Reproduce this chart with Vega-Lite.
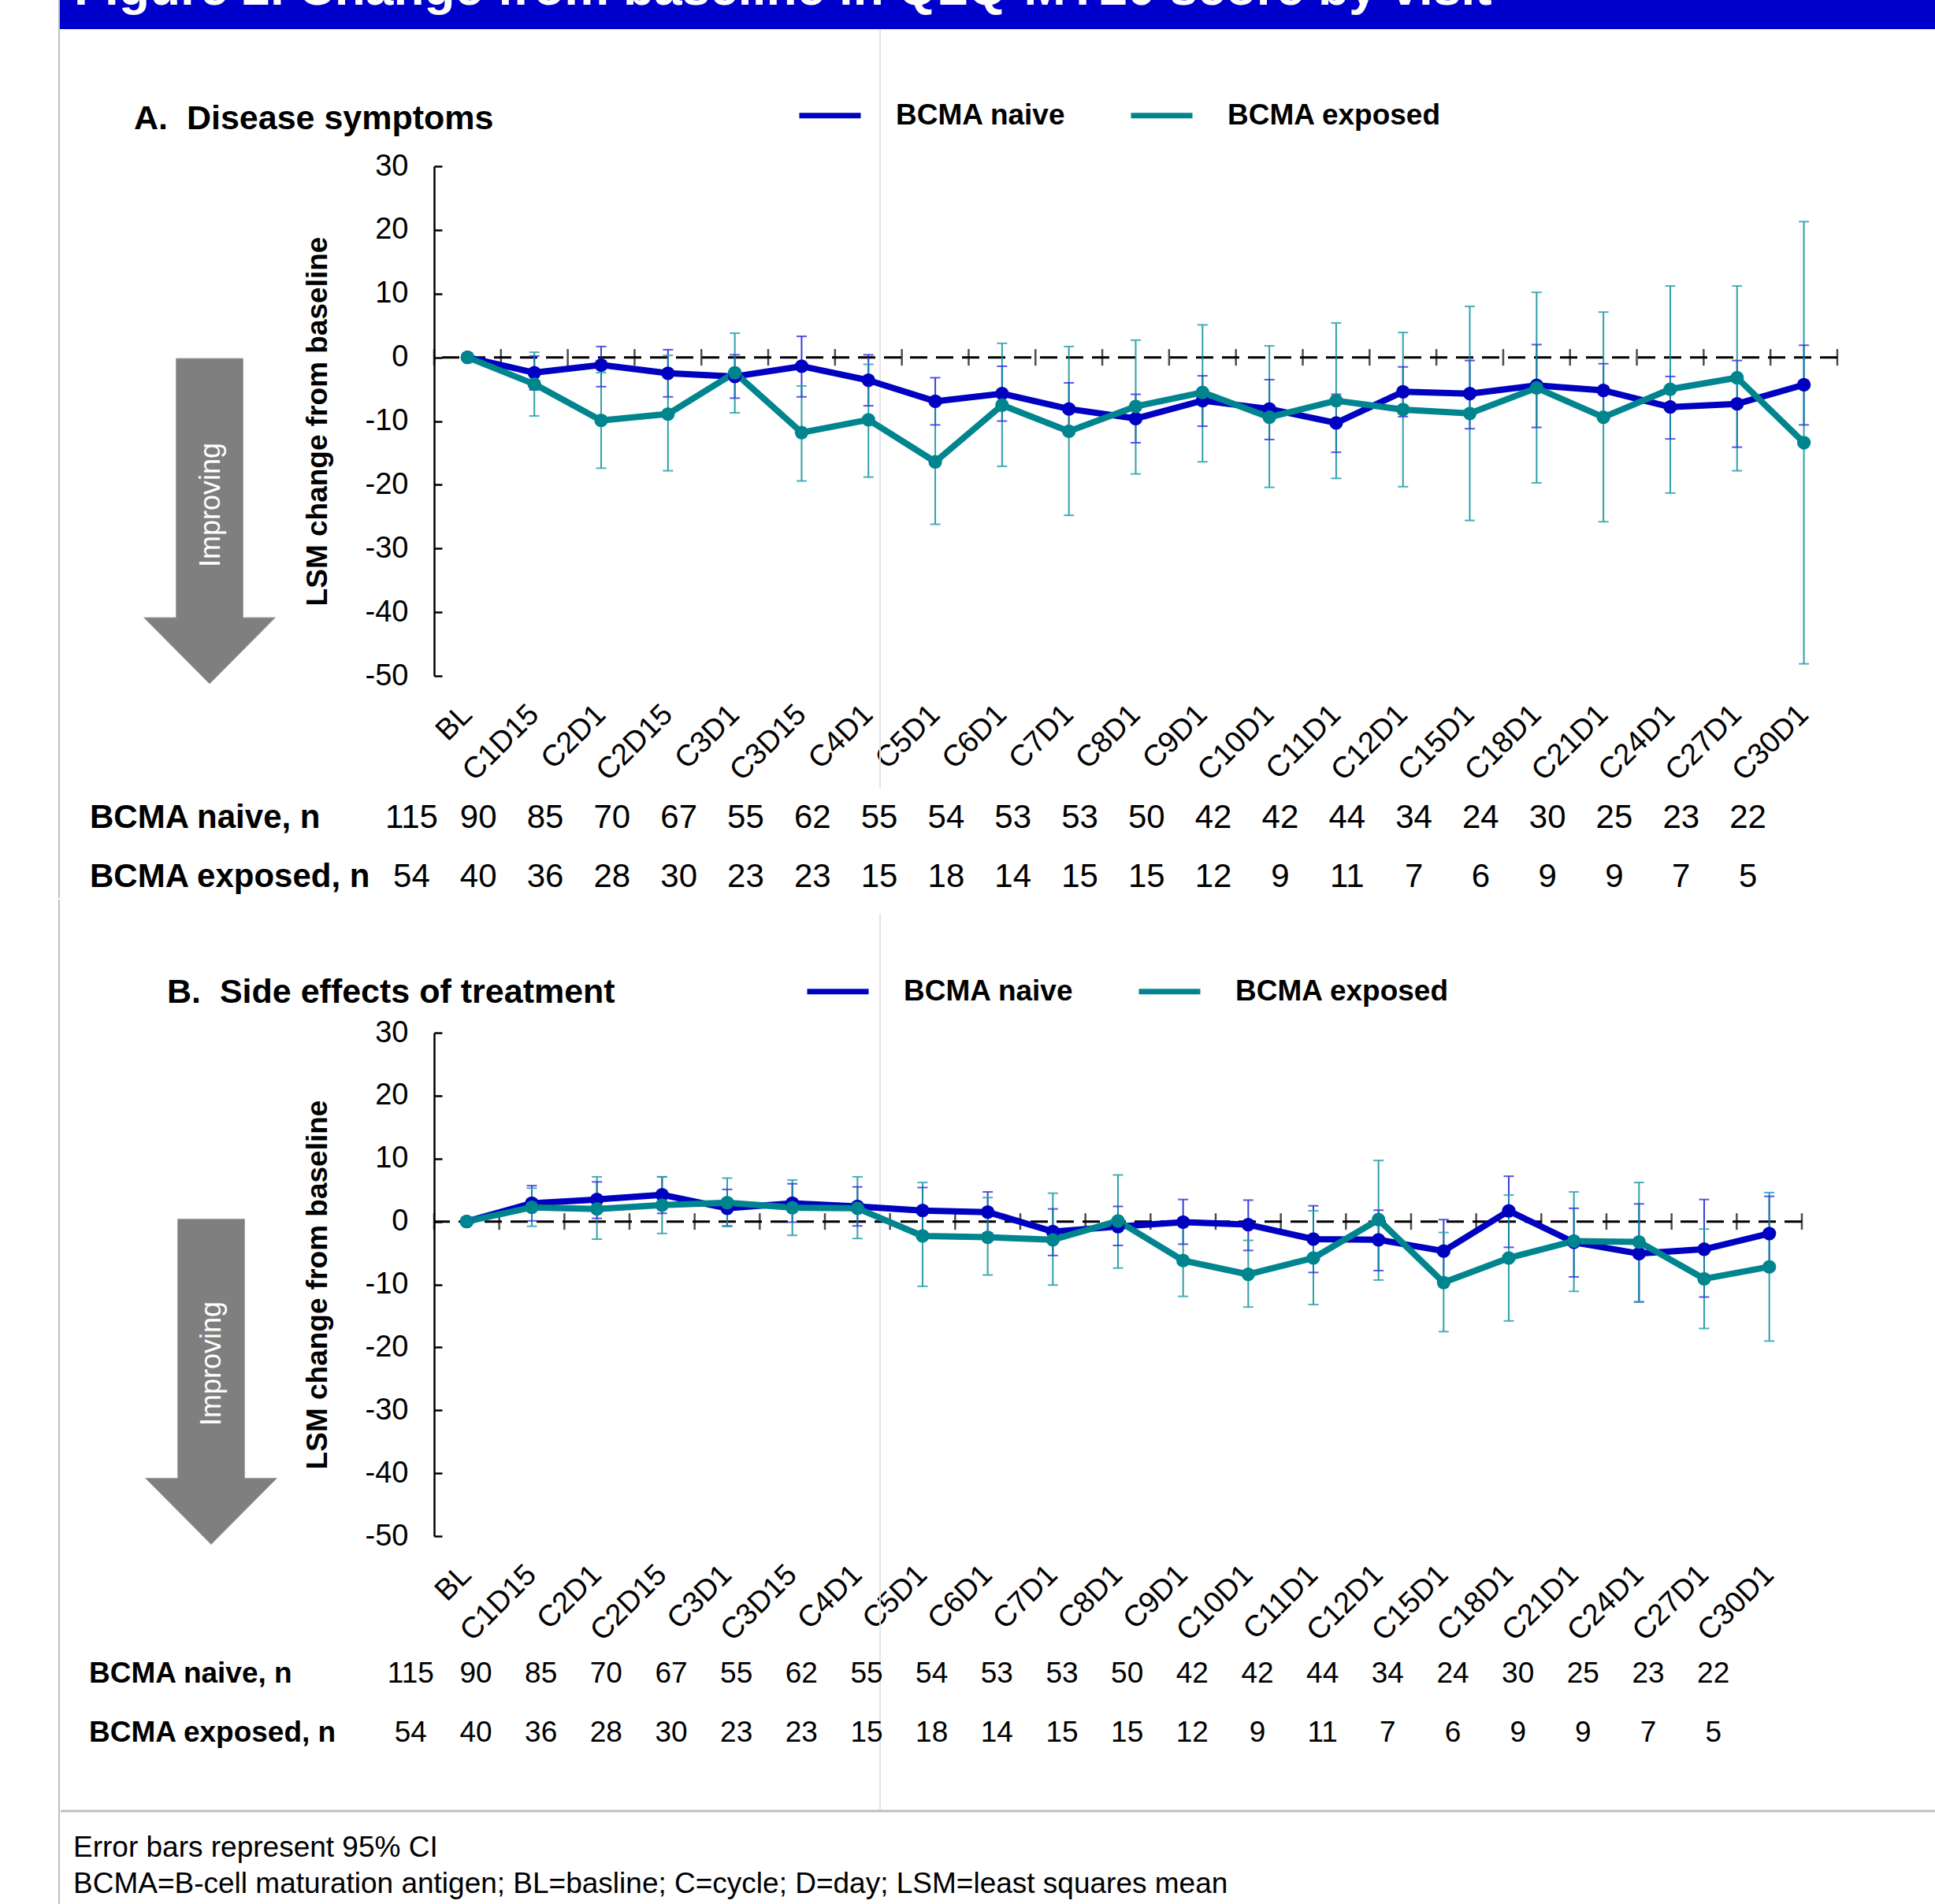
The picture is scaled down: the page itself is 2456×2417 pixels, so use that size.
{
  "$schema": "https://vega.github.io/schema/vega-lite/v6.json",
  "padding": {"left": 74, "top": -90, "right": 0, "bottom": 0},
  "spacing": 0,
  "columns": 1,
  "align": "none",
  "background": "white",
  "resolve": {"scale": {"color": "independent"}, "legend": {"color": "independent"}},
  "config": {
    "view": {"stroke": null},
    "font": "Liberation Sans",
    "axis": {"labelFont": "Liberation Sans", "titleFont": "Liberation Sans", "grid": false},
    "legend": {"labelFont": "Liberation Sans"}
  },
  "datasets": {
    "pts": [
      {"panel":"A","visit":"BL","group":"BCMA naive","lsm":0},
      {"panel":"A","visit":"C1D15","group":"BCMA naive","lsm":-2.4,"lo":-5.1,"hi":0.2},
      {"panel":"A","visit":"C2D1","group":"BCMA naive","lsm":-1.2,"lo":-4.6,"hi":1.7},
      {"panel":"A","visit":"C2D15","group":"BCMA naive","lsm":-2.5,"lo":-6.2,"hi":1.2},
      {"panel":"A","visit":"C3D1","group":"BCMA naive","lsm":-3.0,"lo":-6.4,"hi":0.4},
      {"panel":"A","visit":"C3D15","group":"BCMA naive","lsm":-1.4,"lo":-6.2,"hi":3.3},
      {"panel":"A","visit":"C4D1","group":"BCMA naive","lsm":-3.6,"lo":-7.6,"hi":0.4},
      {"panel":"A","visit":"C5D1","group":"BCMA naive","lsm":-6.9,"lo":-10.6,"hi":-3.2},
      {"panel":"A","visit":"C6D1","group":"BCMA naive","lsm":-5.7,"lo":-10.0,"hi":-1.4},
      {"panel":"A","visit":"C7D1","group":"BCMA naive","lsm":-8.1,"lo":-12.2,"hi":-4.0},
      {"panel":"A","visit":"C8D1","group":"BCMA naive","lsm":-9.6,"lo":-13.4,"hi":-5.8},
      {"panel":"A","visit":"C9D1","group":"BCMA naive","lsm":-6.8,"lo":-10.8,"hi":-2.9},
      {"panel":"A","visit":"C10D1","group":"BCMA naive","lsm":-8.1,"lo":-12.9,"hi":-3.5},
      {"panel":"A","visit":"C11D1","group":"BCMA naive","lsm":-10.3,"lo":-14.9,"hi":-5.8},
      {"panel":"A","visit":"C12D1","group":"BCMA naive","lsm":-5.4,"lo":-9.3,"hi":-1.5},
      {"panel":"A","visit":"C15D1","group":"BCMA naive","lsm":-5.7,"lo":-11.2,"hi":-0.5},
      {"panel":"A","visit":"C18D1","group":"BCMA naive","lsm":-4.4,"lo":-11.0,"hi":2.0},
      {"panel":"A","visit":"C21D1","group":"BCMA naive","lsm":-5.2,"lo":-9.5,"hi":-1.0},
      {"panel":"A","visit":"C24D1","group":"BCMA naive","lsm":-7.8,"lo":-12.8,"hi":-3.0},
      {"panel":"A","visit":"C27D1","group":"BCMA naive","lsm":-7.3,"lo":-14.1,"hi":-0.5},
      {"panel":"A","visit":"C30D1","group":"BCMA naive","lsm":-4.3,"lo":-10.6,"hi":1.9},
      {"panel":"A","visit":"BL","group":"BCMA exposed","lsm":0},
      {"panel":"A","visit":"C1D15","group":"BCMA exposed","lsm":-4.2,"lo":-9.2,"hi":0.8},
      {"panel":"A","visit":"C2D1","group":"BCMA exposed","lsm":-9.9,"lo":-17.4,"hi":-2.4},
      {"panel":"A","visit":"C2D15","group":"BCMA exposed","lsm":-8.9,"lo":-17.8,"hi":0.3},
      {"panel":"A","visit":"C3D1","group":"BCMA exposed","lsm":-2.4,"lo":-8.7,"hi":3.8},
      {"panel":"A","visit":"C3D15","group":"BCMA exposed","lsm":-11.8,"lo":-19.4,"hi":-4.5},
      {"panel":"A","visit":"C4D1","group":"BCMA exposed","lsm":-9.8,"lo":-18.8,"hi":-1.1},
      {"panel":"A","visit":"C5D1","group":"BCMA exposed","lsm":-16.4,"lo":-26.2,"hi":-6.6},
      {"panel":"A","visit":"C6D1","group":"BCMA exposed","lsm":-7.5,"lo":-17.1,"hi":2.2},
      {"panel":"A","visit":"C7D1","group":"BCMA exposed","lsm":-11.6,"lo":-24.8,"hi":1.7},
      {"panel":"A","visit":"C8D1","group":"BCMA exposed","lsm":-7.7,"lo":-18.3,"hi":2.7},
      {"panel":"A","visit":"C9D1","group":"BCMA exposed","lsm":-5.5,"lo":-16.4,"hi":5.1},
      {"panel":"A","visit":"C10D1","group":"BCMA exposed","lsm":-9.4,"lo":-20.4,"hi":1.8},
      {"panel":"A","visit":"C11D1","group":"BCMA exposed","lsm":-6.8,"lo":-19.0,"hi":5.4},
      {"panel":"A","visit":"C12D1","group":"BCMA exposed","lsm":-8.2,"lo":-20.3,"hi":3.9},
      {"panel":"A","visit":"C15D1","group":"BCMA exposed","lsm":-8.8,"lo":-25.6,"hi":8.0},
      {"panel":"A","visit":"C18D1","group":"BCMA exposed","lsm":-4.8,"lo":-19.7,"hi":10.2},
      {"panel":"A","visit":"C21D1","group":"BCMA exposed","lsm":-9.4,"lo":-25.8,"hi":7.1},
      {"panel":"A","visit":"C24D1","group":"BCMA exposed","lsm":-5.0,"lo":-21.3,"hi":11.2},
      {"panel":"A","visit":"C27D1","group":"BCMA exposed","lsm":-3.2,"lo":-17.8,"hi":11.2},
      {"panel":"A","visit":"C30D1","group":"BCMA exposed","lsm":-13.4,"lo":-48.1,"hi":21.3},
      {"panel":"B","visit":"BL","group":"BCMA naive","lsm":0},
      {"panel":"B","visit":"C1D15","group":"BCMA naive","lsm":2.9,"lo":0.1,"hi":5.7},
      {"panel":"B","visit":"C2D1","group":"BCMA naive","lsm":3.5,"lo":0.5,"hi":6.3},
      {"panel":"B","visit":"C2D15","group":"BCMA naive","lsm":4.25,"lo":1.3,"hi":7.1},
      {"panel":"B","visit":"C3D1","group":"BCMA naive","lsm":2.1,"lo":-0.7,"hi":5.1},
      {"panel":"B","visit":"C3D15","group":"BCMA naive","lsm":2.9,"lo":-0.1,"hi":6.0},
      {"panel":"B","visit":"C4D1","group":"BCMA naive","lsm":2.4,"lo":-0.7,"hi":5.5},
      {"panel":"B","visit":"C5D1","group":"BCMA naive","lsm":1.75,"lo":-1.9,"hi":5.4},
      {"panel":"B","visit":"C6D1","group":"BCMA naive","lsm":1.5,"lo":-1.8,"hi":4.7},
      {"panel":"B","visit":"C7D1","group":"BCMA naive","lsm":-1.6,"lo":-5.4,"hi":2.0},
      {"panel":"B","visit":"C8D1","group":"BCMA naive","lsm":-0.8,"lo":-3.8,"hi":2.4},
      {"panel":"B","visit":"C9D1","group":"BCMA naive","lsm":-0.1,"lo":-3.6,"hi":3.5},
      {"panel":"B","visit":"C10D1","group":"BCMA naive","lsm":-0.5,"lo":-4.6,"hi":3.4},
      {"panel":"B","visit":"C11D1","group":"BCMA naive","lsm":-2.8,"lo":-8.1,"hi":2.5},
      {"panel":"B","visit":"C12D1","group":"BCMA naive","lsm":-2.9,"lo":-7.8,"hi":1.8},
      {"panel":"B","visit":"C15D1","group":"BCMA naive","lsm":-4.7,"lo":-9.7,"hi":0.3},
      {"panel":"B","visit":"C18D1","group":"BCMA naive","lsm":1.7,"lo":-4.1,"hi":7.2},
      {"panel":"B","visit":"C21D1","group":"BCMA naive","lsm":-3.3,"lo":-8.8,"hi":2.1},
      {"panel":"B","visit":"C24D1","group":"BCMA naive","lsm":-5.1,"lo":-12.8,"hi":2.8},
      {"panel":"B","visit":"C27D1","group":"BCMA naive","lsm":-4.4,"lo":-12.0,"hi":3.5},
      {"panel":"B","visit":"C30D1","group":"BCMA naive","lsm":-1.9,"lo":-7.7,"hi":4.0},
      {"panel":"B","visit":"BL","group":"BCMA exposed","lsm":0},
      {"panel":"B","visit":"C1D15","group":"BCMA exposed","lsm":2.25,"lo":-0.75,"hi":5.3},
      {"panel":"B","visit":"C2D1","group":"BCMA exposed","lsm":2.0,"lo":-2.8,"hi":7.1},
      {"panel":"B","visit":"C2D15","group":"BCMA exposed","lsm":2.6,"lo":-1.9,"hi":7.1},
      {"panel":"B","visit":"C3D1","group":"BCMA exposed","lsm":3.0,"lo":-0.8,"hi":6.9},
      {"panel":"B","visit":"C3D15","group":"BCMA exposed","lsm":2.2,"lo":-2.2,"hi":6.6},
      {"panel":"B","visit":"C4D1","group":"BCMA exposed","lsm":2.1,"lo":-2.7,"hi":7.1},
      {"panel":"B","visit":"C5D1","group":"BCMA exposed","lsm":-2.3,"lo":-10.3,"hi":6.2},
      {"panel":"B","visit":"C6D1","group":"BCMA exposed","lsm":-2.5,"lo":-8.5,"hi":3.8},
      {"panel":"B","visit":"C7D1","group":"BCMA exposed","lsm":-2.9,"lo":-10.1,"hi":4.5},
      {"panel":"B","visit":"C8D1","group":"BCMA exposed","lsm":0.1,"lo":-7.4,"hi":7.4},
      {"panel":"B","visit":"C9D1","group":"BCMA exposed","lsm":-6.2,"lo":-11.9,"hi":-0.5},
      {"panel":"B","visit":"C10D1","group":"BCMA exposed","lsm":-8.4,"lo":-13.6,"hi":-3.0},
      {"panel":"B","visit":"C11D1","group":"BCMA exposed","lsm":-5.8,"lo":-13.2,"hi":1.7},
      {"panel":"B","visit":"C12D1","group":"BCMA exposed","lsm":0.3,"lo":-9.3,"hi":9.7},
      {"panel":"B","visit":"C15D1","group":"BCMA exposed","lsm":-9.7,"lo":-17.5,"hi":-1.75},
      {"panel":"B","visit":"C18D1","group":"BCMA exposed","lsm":-5.8,"lo":-15.8,"hi":4.2},
      {"panel":"B","visit":"C21D1","group":"BCMA exposed","lsm":-3.1,"lo":-11.1,"hi":4.7},
      {"panel":"B","visit":"C24D1","group":"BCMA exposed","lsm":-3.25,"lo":-12.75,"hi":6.2},
      {"panel":"B","visit":"C27D1","group":"BCMA exposed","lsm":-9.1,"lo":-17.0,"hi":-1.2},
      {"panel":"B","visit":"C30D1","group":"BCMA exposed","lsm":-7.2,"lo":-19.0,"hi":4.6}
    ],
    "counts": [
      {"visit":"BL","group":"BCMA naive","n":115},{"visit":"C1D15","group":"BCMA naive","n":90},
      {"visit":"C2D1","group":"BCMA naive","n":85},{"visit":"C2D15","group":"BCMA naive","n":70},
      {"visit":"C3D1","group":"BCMA naive","n":67},{"visit":"C3D15","group":"BCMA naive","n":55},
      {"visit":"C4D1","group":"BCMA naive","n":62},{"visit":"C5D1","group":"BCMA naive","n":55},
      {"visit":"C6D1","group":"BCMA naive","n":54},{"visit":"C7D1","group":"BCMA naive","n":53},
      {"visit":"C8D1","group":"BCMA naive","n":53},{"visit":"C9D1","group":"BCMA naive","n":50},
      {"visit":"C10D1","group":"BCMA naive","n":42},{"visit":"C11D1","group":"BCMA naive","n":42},
      {"visit":"C12D1","group":"BCMA naive","n":44},{"visit":"C15D1","group":"BCMA naive","n":34},
      {"visit":"C18D1","group":"BCMA naive","n":24},{"visit":"C21D1","group":"BCMA naive","n":30},
      {"visit":"C24D1","group":"BCMA naive","n":25},{"visit":"C27D1","group":"BCMA naive","n":23},
      {"visit":"C30D1","group":"BCMA naive","n":22},
      {"visit":"BL","group":"BCMA exposed","n":54},{"visit":"C1D15","group":"BCMA exposed","n":40},
      {"visit":"C2D1","group":"BCMA exposed","n":36},{"visit":"C2D15","group":"BCMA exposed","n":28},
      {"visit":"C3D1","group":"BCMA exposed","n":30},{"visit":"C3D15","group":"BCMA exposed","n":23},
      {"visit":"C4D1","group":"BCMA exposed","n":23},{"visit":"C5D1","group":"BCMA exposed","n":15},
      {"visit":"C6D1","group":"BCMA exposed","n":18},{"visit":"C7D1","group":"BCMA exposed","n":14},
      {"visit":"C8D1","group":"BCMA exposed","n":15},{"visit":"C9D1","group":"BCMA exposed","n":15},
      {"visit":"C10D1","group":"BCMA exposed","n":12},{"visit":"C11D1","group":"BCMA exposed","n":9},
      {"visit":"C12D1","group":"BCMA exposed","n":11},{"visit":"C15D1","group":"BCMA exposed","n":7},
      {"visit":"C18D1","group":"BCMA exposed","n":6},{"visit":"C21D1","group":"BCMA exposed","n":9},
      {"visit":"C24D1","group":"BCMA exposed","n":9},{"visit":"C27D1","group":"BCMA exposed","n":7},
      {"visit":"C30D1","group":"BCMA exposed","n":5}
    ]
  },
  "concat": [
    {
      "width": 1781,
      "height": 647,
      "layer": [
        {"data": {"values": [{}]}, "mark": {"type": "rect", "color": "#0000CC"}, "encoding": {"x": {"value": -476}, "x2": {"value": 1905}, "y": {"value": -211}, "y2": {"value": -174}}},
        {"data": {"values": [{}]}, "mark": {"type": "text", "text": "Figure 2. Change from baseline in QLQ-MY20 score by visit", "color": "white", "fontSize": 64, "fontWeight": "bold", "align": "left", "baseline": "alphabetic"}, "encoding": {"x": {"value": -457}, "y": {"value": -205}}},
        {"data": {"values": [{}]}, "mark": {"type": "rule", "color": "#BFBFBF", "strokeWidth": 2}, "encoding": {"x": {"value": -476}, "y": {"value": -300}, "y2": {"value": 929}}},
        {"data": {"values": [{}]}, "mark": {"type": "rule", "color": "#E3E3E3", "strokeWidth": 2}, "encoding": {"x": {"value": 566}, "y": {"value": -173}, "y2": {"value": 789}}},
        {"data": {"values": [{}]}, "mark": {"type": "point", "shape": "M-0.206,-1L0.206,-1L0.206,0.593L0.404,0.593L0,1L-0.404,0.593L-0.206,0.593Z", "size": 170569, "filled": true, "fill": "#7F7F7F", "stroke": "#A5A5A5", "strokeWidth": 1, "opacity": 1}, "encoding": {"x": {"value": -285}, "y": {"value": 450.5}}},
        {"data": {"values": [{}]}, "mark": {"type": "text", "text": "Improving", "angle": 270, "color": "white", "fontSize": 36, "align": "center", "baseline": "middle"}, "encoding": {"x": {"value": -283}, "y": {"value": 430}}},
        {"data": {"values": [{}]}, "mark": {"type": "text", "text": "A.\u00a0 Disease symptoms", "fontSize": 43, "fontWeight": "bold", "align": "left", "baseline": "alphabetic", "color": "black"}, "encoding": {"x": {"value": -381}, "y": {"value": -47}}},
        {"data": {"values": [{}]}, "mark": {"type": "rule", "color": "black", "strokeWidth": 3, "strokeDash": [22, 11]}, "encoding": {"y": {"datum": 0, "type": "quantitative", "scale": {"domain": [-50, 30], "nice": false, "zero": false}}}},
        {
          "data": {"name": "counts"},
          "transform": [{"filter": "datum.group == 'BCMA naive'"}],
          "mark": {"type": "tick", "orient": "vertical", "size": 21, "thickness": 2.5, "color": "black"},
          "encoding": {
            "x": {"field": "visit", "type": "nominal", "bandPosition": 0, "sort": ["BL","C1D15","C2D1","C2D15","C3D1","C3D15","C4D1","C5D1","C6D1","C7D1","C8D1","C9D1","C10D1","C11D1","C12D1","C15D1","C18D1","C21D1","C24D1","C27D1","C30D1"], "scale": {"domain": ["BL","C1D15","C2D1","C2D15","C3D1","C3D15","C4D1","C5D1","C6D1","C7D1","C8D1","C9D1","C10D1","C11D1","C12D1","C15D1","C18D1","C21D1","C24D1","C27D1","C30D1"], "paddingInner": 0, "paddingOuter": 0}},
            "y": {"datum": 0, "type": "quantitative"}
          }
        },
        {
          "data": {"name": "counts"},
          "transform": [{"filter": "datum.group == 'BCMA naive' && datum.visit == 'C30D1'"}],
          "mark": {"type": "tick", "orient": "vertical", "size": 21, "thickness": 2.5, "color": "black"},
          "encoding": {
            "x": {"field": "visit", "type": "nominal", "bandPosition": 1},
            "y": {"datum": 0, "type": "quantitative"}
          }
        },
        {
          "data": {"name": "pts"},
          "transform": [{"filter": "datum.panel == 'A' && datum.group == 'BCMA naive' && isValid(datum.lo)"}],
          "mark": {"type": "rule", "strokeWidth": 2, "color": "#1A1AD0", "opacity": 0.85},
          "encoding": {"x": {"field": "visit", "type": "nominal"}, "y": {"field": "lo", "type": "quantitative"}, "y2": {"field": "hi"}}
        },
        {
          "data": {"name": "pts"},
          "transform": [{"filter": "datum.panel == 'A' && datum.group == 'BCMA exposed' && isValid(datum.lo)"}],
          "mark": {"type": "rule", "strokeWidth": 2, "color": "#0B8E9A", "opacity": 0.85},
          "encoding": {"x": {"field": "visit", "type": "nominal"}, "y": {"field": "lo", "type": "quantitative"}, "y2": {"field": "hi"}}
        },
        {
          "data": {"name": "pts"},
          "transform": [{"filter": "datum.panel == 'A' && datum.group == 'BCMA naive' && isValid(datum.lo)"}, {"fold": ["lo", "hi"], "as": ["end", "ci"]}],
          "mark": {"type": "tick", "orient": "horizontal", "size": 13, "thickness": 2, "color": "#3A3AE0", "opacity": 0.85},
          "encoding": {"x": {"field": "visit", "type": "nominal"}, "y": {"field": "ci", "type": "quantitative"}}
        },
        {
          "data": {"name": "pts"},
          "transform": [{"filter": "datum.panel == 'A' && datum.group == 'BCMA exposed' && isValid(datum.lo)"}, {"fold": ["lo", "hi"], "as": ["end", "ci"]}],
          "mark": {"type": "tick", "orient": "horizontal", "size": 13, "thickness": 2, "color": "#2AA3AE", "opacity": 0.85},
          "encoding": {"x": {"field": "visit", "type": "nominal"}, "y": {"field": "ci", "type": "quantitative"}}
        },
        {
          "data": {"name": "pts"},
          "transform": [{"filter": "datum.panel == 'A'"}],
          "mark": {"type": "line", "strokeWidth": 8, "strokeJoin": "round"},
          "encoding": {
            "x": {"field": "visit", "type": "nominal", "sort": ["BL","C1D15","C2D1","C2D15","C3D1","C3D15","C4D1","C5D1","C6D1","C7D1","C8D1","C9D1","C10D1","C11D1","C12D1","C15D1","C18D1","C21D1","C24D1","C27D1","C30D1"],
              "axis": {"orient": "bottom", "domain": false, "ticks": false, "labelAngle": -45, "labelAlign": "right", "labelBaseline": "middle", "labelPadding": 43, "labelFontSize": 38, "labelOverlap": false, "labelBound": false, "labelColor": "black", "title": null}},
            "y": {"field": "lsm", "type": "quantitative",
              "axis": {"values": [-50,-40,-30,-20,-10,0,10,20,30], "labelExpr": "'' + datum.value", "domainColor": "black", "domainWidth": 2.5, "tickColor": "black", "tickSize": -10, "tickWidth": 2.5, "labelFontSize": 38, "labelPadding": 43, "labelColor": "black", "title": "LSM change from baseline", "titleFontSize": 37, "titleFontWeight": "bold", "titlePadding": 41, "titleColor": "black", "grid": false}},
            "color": {"field": "group", "type": "nominal", "scale": {"domain": ["BCMA naive", "BCMA exposed"], "range": ["#0000C0", "#00858F"]},
              "legend": {"orient": "none", "legendX": 460, "legendY": -107, "direction": "horizontal", "title": null, "symbolType": "stroke", "symbolSize": 6084, "symbolStrokeWidth": 7, "labelFontSize": 37, "labelFontWeight": "bold", "labelColor": "black", "labelOffset": 41, "labelLimit": 600, "columnPadding": 68, "padding": 0}}
          }
        },
        {
          "data": {"name": "pts"},
          "transform": [{"filter": "datum.panel == 'A' && datum.group == 'BCMA naive'"}],
          "mark": {"type": "circle", "size": 300, "opacity": 1, "color": "#0000C0"},
          "encoding": {"x": {"field": "visit", "type": "nominal"}, "y": {"field": "lsm", "type": "quantitative"}}
        },
        {
          "data": {"name": "pts"},
          "transform": [{"filter": "datum.panel == 'A' && datum.group == 'BCMA exposed'"}],
          "mark": {"type": "circle", "size": 300, "opacity": 1, "color": "#00858F"},
          "encoding": {"x": {"field": "visit", "type": "nominal"}, "y": {"field": "lsm", "type": "quantitative"}}
        },
        {
          "data": {"name": "counts"},
          "transform": [{"filter": "datum.group == 'BCMA naive'"}],
          "mark": {"type": "text", "fontSize": 42, "dx": -71, "align": "center", "baseline": "middle", "color": "black"},
          "encoding": {"x": {"field": "visit", "type": "nominal"}, "y": {"datum": -72.2, "type": "quantitative"}, "text": {"field": "n", "type": "quantitative"}}
        },
        {
          "data": {"name": "counts"},
          "transform": [{"filter": "datum.group == 'BCMA exposed'"}],
          "mark": {"type": "text", "fontSize": 42, "dx": -71, "align": "center", "baseline": "middle", "color": "black"},
          "encoding": {"x": {"field": "visit", "type": "nominal"}, "y": {"datum": -81.5, "type": "quantitative"}, "text": {"field": "n", "type": "quantitative"}}
        },
        {"data": {"values": [{}]}, "mark": {"type": "text", "text": "BCMA naive, n", "fontSize": 42, "fontWeight": "bold", "align": "left", "baseline": "middle", "color": "black"}, "encoding": {"x": {"value": -437}, "y": {"datum": -72.2, "type": "quantitative"}}},
        {"data": {"values": [{}]}, "mark": {"type": "text", "text": "BCMA exposed, n", "fontSize": 42, "fontWeight": "bold", "align": "left", "baseline": "middle", "color": "black"}, "encoding": {"x": {"value": -437}, "y": {"datum": -81.5, "type": "quantitative"}}}
      ]
    },
    {
      "width": 1736,
      "height": 639,
      "layer": [
        {"data": {"values": [{}]}, "mark": {"type": "rule", "color": "#BFBFBF", "strokeWidth": 2}, "encoding": {"x": {"value": -476}, "y": {"value": -169}, "y2": {"value": 1106}}},
        {"data": {"values": [{}]}, "mark": {"type": "rule", "color": "#E3E3E3", "strokeWidth": 2}, "encoding": {"x": {"value": 566}, "y": {"value": -151}, "y2": {"value": 988}}},
        {"data": {"values": [{}]}, "mark": {"type": "rule", "color": "#BFBFBF", "strokeWidth": 3}, "encoding": {"x": {"value": -474}, "x2": {"value": 1905}, "y": {"value": 988}}},
        {"data": {"values": [{}]}, "mark": {"type": "point", "shape": "M-0.206,-1L0.206,-1L0.206,0.593L0.404,0.593L0,1L-0.404,0.593L-0.206,0.593Z", "size": 170569, "filled": true, "fill": "#7F7F7F", "stroke": "#A5A5A5", "strokeWidth": 1, "opacity": 1}, "encoding": {"x": {"value": -283}, "y": {"value": 443}}},
        {"data": {"values": [{}]}, "mark": {"type": "text", "text": "Improving", "angle": 270, "color": "white", "fontSize": 36, "align": "center", "baseline": "middle"}, "encoding": {"x": {"value": -282}, "y": {"value": 420}}},
        {"data": {"values": [{}]}, "mark": {"type": "text", "text": "B.\u00a0 Side effects of treatment", "fontSize": 43, "fontWeight": "bold", "align": "left", "baseline": "alphabetic", "color": "black"}, "encoding": {"x": {"value": -339}, "y": {"value": -38}}},
        {"data": {"values": [{}]}, "mark": {"type": "rule", "color": "black", "strokeWidth": 3, "strokeDash": [22, 11]}, "encoding": {"y": {"datum": 0, "type": "quantitative", "scale": {"domain": [-50, 30], "nice": false, "zero": false}}}},
        {
          "data": {"name": "counts"},
          "transform": [{"filter": "datum.group == 'BCMA naive'"}],
          "mark": {"type": "tick", "orient": "vertical", "size": 21, "thickness": 2.5, "color": "black"},
          "encoding": {
            "x": {"field": "visit", "type": "nominal", "bandPosition": 0, "sort": ["BL","C1D15","C2D1","C2D15","C3D1","C3D15","C4D1","C5D1","C6D1","C7D1","C8D1","C9D1","C10D1","C11D1","C12D1","C15D1","C18D1","C21D1","C24D1","C27D1","C30D1"], "scale": {"domain": ["BL","C1D15","C2D1","C2D15","C3D1","C3D15","C4D1","C5D1","C6D1","C7D1","C8D1","C9D1","C10D1","C11D1","C12D1","C15D1","C18D1","C21D1","C24D1","C27D1","C30D1"], "paddingInner": 0, "paddingOuter": 0}},
            "y": {"datum": 0, "type": "quantitative"}
          }
        },
        {
          "data": {"name": "counts"},
          "transform": [{"filter": "datum.group == 'BCMA naive' && datum.visit == 'C30D1'"}],
          "mark": {"type": "tick", "orient": "vertical", "size": 21, "thickness": 2.5, "color": "black"},
          "encoding": {
            "x": {"field": "visit", "type": "nominal", "bandPosition": 1},
            "y": {"datum": 0, "type": "quantitative"}
          }
        },
        {
          "data": {"name": "pts"},
          "transform": [{"filter": "datum.panel == 'B' && datum.group == 'BCMA naive' && isValid(datum.lo)"}],
          "mark": {"type": "rule", "strokeWidth": 2, "color": "#1A1AD0", "opacity": 0.85},
          "encoding": {"x": {"field": "visit", "type": "nominal"}, "y": {"field": "lo", "type": "quantitative"}, "y2": {"field": "hi"}}
        },
        {
          "data": {"name": "pts"},
          "transform": [{"filter": "datum.panel == 'B' && datum.group == 'BCMA exposed' && isValid(datum.lo)"}],
          "mark": {"type": "rule", "strokeWidth": 2, "color": "#0B8E9A", "opacity": 0.85},
          "encoding": {"x": {"field": "visit", "type": "nominal"}, "y": {"field": "lo", "type": "quantitative"}, "y2": {"field": "hi"}}
        },
        {
          "data": {"name": "pts"},
          "transform": [{"filter": "datum.panel == 'B' && datum.group == 'BCMA naive' && isValid(datum.lo)"}, {"fold": ["lo", "hi"], "as": ["end", "ci"]}],
          "mark": {"type": "tick", "orient": "horizontal", "size": 13, "thickness": 2, "color": "#3A3AE0", "opacity": 0.85},
          "encoding": {"x": {"field": "visit", "type": "nominal"}, "y": {"field": "ci", "type": "quantitative"}}
        },
        {
          "data": {"name": "pts"},
          "transform": [{"filter": "datum.panel == 'B' && datum.group == 'BCMA exposed' && isValid(datum.lo)"}, {"fold": ["lo", "hi"], "as": ["end", "ci"]}],
          "mark": {"type": "tick", "orient": "horizontal", "size": 13, "thickness": 2, "color": "#2AA3AE", "opacity": 0.85},
          "encoding": {"x": {"field": "visit", "type": "nominal"}, "y": {"field": "ci", "type": "quantitative"}}
        },
        {
          "data": {"name": "pts"},
          "transform": [{"filter": "datum.panel == 'B'"}],
          "mark": {"type": "line", "strokeWidth": 8, "strokeJoin": "round"},
          "encoding": {
            "x": {"field": "visit", "type": "nominal", "sort": ["BL","C1D15","C2D1","C2D15","C3D1","C3D15","C4D1","C5D1","C6D1","C7D1","C8D1","C9D1","C10D1","C11D1","C12D1","C15D1","C18D1","C21D1","C24D1","C27D1","C30D1"],
              "axis": {"orient": "bottom", "domain": false, "ticks": false, "labelAngle": -45, "labelAlign": "right", "labelBaseline": "middle", "labelPadding": 43, "labelFontSize": 38, "labelOverlap": false, "labelBound": false, "labelColor": "black", "title": null}},
            "y": {"field": "lsm", "type": "quantitative",
              "axis": {"values": [-50,-40,-30,-20,-10,0,10,20,30], "labelExpr": "'' + datum.value", "domainColor": "black", "domainWidth": 2.5, "tickColor": "black", "tickSize": -10, "tickWidth": 2.5, "labelFontSize": 38, "labelPadding": 43, "labelColor": "black", "title": "LSM change from baseline", "titleFontSize": 37, "titleFontWeight": "bold", "titlePadding": 41, "titleColor": "black", "grid": false}},
            "color": {"field": "group", "type": "nominal", "scale": {"domain": ["BCMA naive", "BCMA exposed"], "range": ["#0000C0", "#00858F"]},
              "legend": {"orient": "none", "legendX": 470, "legendY": -95, "direction": "horizontal", "title": null, "symbolType": "stroke", "symbolSize": 6084, "symbolStrokeWidth": 7, "labelFontSize": 37, "labelFontWeight": "bold", "labelColor": "black", "labelOffset": 41, "labelLimit": 600, "columnPadding": 68, "padding": 0}}
          }
        },
        {
          "data": {"name": "pts"},
          "transform": [{"filter": "datum.panel == 'B' && datum.group == 'BCMA naive'"}],
          "mark": {"type": "circle", "size": 300, "opacity": 1, "color": "#0000C0"},
          "encoding": {"x": {"field": "visit", "type": "nominal"}, "y": {"field": "lsm", "type": "quantitative"}}
        },
        {
          "data": {"name": "pts"},
          "transform": [{"filter": "datum.panel == 'B' && datum.group == 'BCMA exposed'"}],
          "mark": {"type": "circle", "size": 300, "opacity": 1, "color": "#00858F"},
          "encoding": {"x": {"field": "visit", "type": "nominal"}, "y": {"field": "lsm", "type": "quantitative"}}
        },
        {
          "data": {"name": "counts"},
          "transform": [{"filter": "datum.group == 'BCMA naive'"}],
          "mark": {"type": "text", "fontSize": 37, "dx": -71, "align": "center", "baseline": "middle", "color": "black"},
          "encoding": {"x": {"field": "visit", "type": "nominal"}, "y": {"datum": -71.9, "type": "quantitative"}, "text": {"field": "n", "type": "quantitative"}}
        },
        {
          "data": {"name": "counts"},
          "transform": [{"filter": "datum.group == 'BCMA exposed'"}],
          "mark": {"type": "text", "fontSize": 37, "dx": -71, "align": "center", "baseline": "middle", "color": "black"},
          "encoding": {"x": {"field": "visit", "type": "nominal"}, "y": {"datum": -81.3, "type": "quantitative"}, "text": {"field": "n", "type": "quantitative"}}
        },
        {"data": {"values": [{}]}, "mark": {"type": "text", "text": "BCMA naive, n", "fontSize": 37, "fontWeight": "bold", "align": "left", "baseline": "middle", "color": "black"}, "encoding": {"x": {"value": -438}, "y": {"datum": -71.9, "type": "quantitative"}}},
        {"data": {"values": [{}]}, "mark": {"type": "text", "text": "BCMA exposed, n", "fontSize": 37, "fontWeight": "bold", "align": "left", "baseline": "middle", "color": "black"}, "encoding": {"x": {"value": -438}, "y": {"datum": -81.3, "type": "quantitative"}}},
        {"data": {"values": [{}]}, "mark": {"type": "text", "text": "Error bars represent 95% CI", "fontSize": 37, "align": "left", "baseline": "middle", "color": "black"}, "encoding": {"x": {"value": -458}, "y": {"value": 1035}}},
        {"data": {"values": [{}]}, "mark": {"type": "text", "text": "BCMA=B-cell maturation antigen; BL=basline; C=cycle; D=day; LSM=least squares mean", "fontSize": 37, "align": "left", "baseline": "middle", "color": "black"}, "encoding": {"x": {"value": -458}, "y": {"value": 1081}}}
      ]
    }
  ]
}
